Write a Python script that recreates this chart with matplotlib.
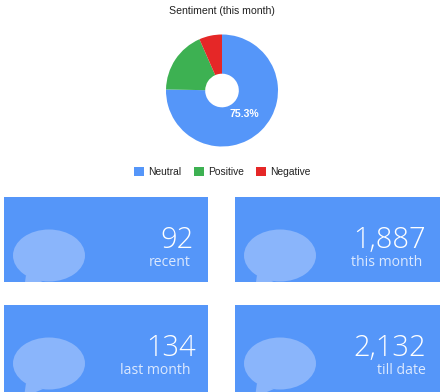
import matplotlib
matplotlib.use("Agg")
import matplotlib.pyplot as plt
from matplotlib.patches import Rectangle, Ellipse, Polygon

W, H = 446, 392
labels = ["Neutral", "Positive", "Negative"]
shares = [75.3, 18.1, 6.6]
colors = ["#5596F9", "#3DB152", "#E52727"]
card_values = ["92", "1,887", "134", "2,132"]
card_labels = ["recent", "this month", "last month", "till date"]

CARD = "#5596F9"
BUBBLE = "#8AB5FB"
LABEL = "#DCE9FE"
UI = ["Liberation Sans", "DejaVu Sans"]
NUM = ["Open Sans", "DejaVu Sans"]

fig = plt.figure(figsize=(W / 100, H / 100), dpi=100, facecolor="white")

bg = fig.add_axes([0, 0, 1, 1])
bg.set_xlim(0, W)
bg.set_ylim(H, 0)
bg.axis("off")

layout = [
    (4, 197, 204, 85, 194, 191),
    (235, 197, 205, 85, 426, 422),
    (4, 305, 204, 87, 196, 191),
    (235, 305, 205, 87, 426, 426),
]
for (x, y, w, h, vr, lr), val, lab in zip(layout, card_values, card_labels):
    card = Rectangle((x, y), w, h, fc=CARD, ec="none")
    bg.add_patch(card)
    body = Ellipse((x + 45, y + 58.5), 72, 52, fc=BUBBLE, ec="none")
    tail = Polygon([(x + 22, y + 78), (x + 39, y + 84), (x + 20, y + 92)], fc=BUBBLE, ec="none")
    for p in (body, tail):
        bg.add_patch(p)
        p.set_clip_path(card)
    bg.text(vr, y + 51, val, ha="right", va="baseline", color="white",
            fontsize=21, family=NUM, fontweight="light")
    bg.text(lr, y + 69, lab, ha="right", va="baseline", color=LABEL,
            fontsize=10.1, family=NUM, fontweight="normal")

bg.text(222, 13.5, "Sentiment (this month)", ha="center", va="baseline",
        fontsize=7.6, family=UI, color="#222222")

R = 56
cx, cy = 222, 90.5
ax = fig.add_axes([(cx - R) / W, 1 - (cy + R) / H, 2 * R / W, 2 * R / H])
wedges, _, autotexts = ax.pie(
    shares, colors=colors, startangle=90, counterclock=False,
    wedgeprops=dict(width=0.7, edgecolor="none"),
    autopct=lambda p: f"{p:.1f}%" if p > 50 else "", pctdistance=0.58,
    textprops=dict(family=UI),
)
for t in autotexts:
    t.set_color("white")
    t.set_fontsize(7.6)
    t.set_fontweight("bold")
ax.set_xlim(-1, 1)
ax.set_ylim(-1, 1)

leg = fig.legend(
    wedges, labels, ncol=3, loc="center", bbox_to_anchor=(222.5 / W, 1 - 172 / H),
    frameon=False, handlelength=0.97, handleheight=1.0,
    handletextpad=0.4, columnspacing=1.2, prop=dict(family=UI, size=7.4),
)
for t in leg.get_texts():
    t.set_color("#222222")

fig.savefig("out.png", dpi=100)
